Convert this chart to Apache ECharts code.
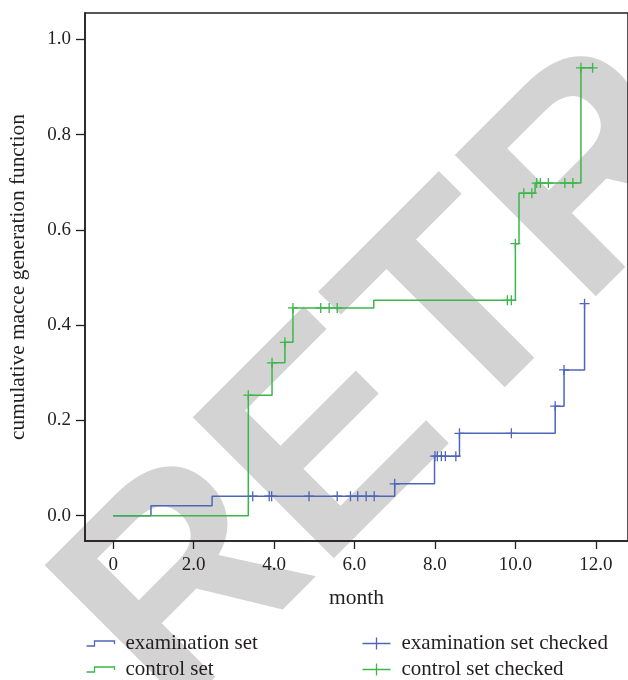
<!DOCTYPE html>
<html>
<head>
<meta charset="utf-8">
<script src="https://cdn.jsdelivr.net/npm/echarts@6/dist/echarts.min.js"></script>
<style>
html, body { margin: 0; padding: 0; background: #fff; }
#main { width: 628px; height: 680px; }
</style>
</head>
<body>
<div id="main"></div>
<script>
// examination set: step times (month) and cumulative value after each step
var examTimes = [0, 0.94, 2.46, 7.0, 7.99, 8.61, 10.99, 11.21, 11.72];
var examRisk = [0, 0.021, 0.041, 0.067, 0.125, 0.173, 0.230, 0.306, 0.445];
// examination set censored marks
var examCheckTimes = [3.47, 3.88, 3.94, 4.87, 5.57, 5.90, 6.08, 6.29, 6.49, 7.0, 8.0, 8.06, 8.16, 8.26, 8.52, 8.61, 9.90, 10.99, 11.21, 11.72];
var examCheckRisk = [0.041, 0.041, 0.041, 0.041, 0.041, 0.041, 0.041, 0.041, 0.041, 0.067, 0.125, 0.125, 0.125, 0.125, 0.125, 0.173, 0.173, 0.230, 0.306, 0.445];

// control set
var ctrlTimes = [0, 3.36, 3.95, 4.27, 4.47, 6.48, 10.0, 10.09, 10.49, 11.63, 11.92];
var ctrlRisk = [0, 0.253, 0.321, 0.364, 0.436, 0.452, 0.571, 0.677, 0.698, 0.940, 0.940];
var ctrlCheckTimes = [3.36, 3.95, 4.27, 4.47, 5.16, 5.37, 5.57, 9.80, 9.90, 10.0, 10.21, 10.41, 10.53, 10.62, 10.82, 11.23, 11.43, 11.63, 11.92];
var ctrlCheckRisk = [0.253, 0.321, 0.364, 0.436, 0.436, 0.436, 0.436, 0.452, 0.452, 0.571, 0.677, 0.677, 0.698, 0.698, 0.698, 0.698, 0.698, 0.940, 0.940];

var xTicks = [0, 2, 4, 6, 8, 10, 12];
var yTicks = [0, 0.2, 0.4, 0.6, 0.8, 1.0];

var blue = '#4d66b8';
var green = '#3cb64a';
var ink = '#231f20';
var serif = '"Liberation Serif", "DejaVu Serif", serif';
var cross = 'path://M0,5L10,5M5,0L5,10';
var stepIcon = 'path://M0,5L8,5L8,0L28,0L28,3';
var crossIcon = 'path://M0,6L28,6M14,0L14,12';

function pairs(xs, ys) {
	var out = [];
	for (var i = 0; i < xs.length; i++) {
		out.push([xs[i], ys[i]]);
	}
	return out;
}

var myChart = echarts.init(document.getElementById('main'));
var option = {
	animation: false,
	backgroundColor: '#fff',
	// the grey watermark behind the plot
	graphic: [{
		type: 'text',
		silent: true,
		z: -10,
		x: 218,
		y: 766,
		rotation: Math.PI / 4,
		style: {
			text: 'RETRACTED',
			font: 'bold 290px "Liberation Sans", Arial, sans-serif',
			fill: '#d3d3d3',
			textAlign: 'left',
			textVerticalAlign: 'bottom'
		}
	}],
	grid: {
		left: 85,
		top: 13,
		right: -10,
		bottom: 139,
		show: true,
		borderColor: ink,
		borderWidth: 1.5
	},
	legend: [{
		left: 84,
		top: 633,
		padding: 0,
		orient: 'vertical',
		itemGap: 5,
		itemWidth: 28,
		itemHeight: 6,
		textStyle: { fontFamily: serif, fontSize: 21, color: ink, padding: [0, 0, 0, 6] },
		data: [
			{ name: 'examination set', icon: stepIcon, itemStyle: { color: 'none', borderColor: blue, borderWidth: 1.3 } },
			{ name: 'control set', icon: stepIcon, itemStyle: { color: 'none', borderColor: green, borderWidth: 1.3 } }
		]
	}, {
		left: 360,
		top: 633,
		padding: 0,
		orient: 'vertical',
		itemGap: 5,
		itemWidth: 28,
		itemHeight: 12,
		textStyle: { fontFamily: serif, fontSize: 21, color: ink, padding: [0, 0, 0, 6] },
		data: [
			{ name: 'examination set checked', icon: crossIcon, itemStyle: { color: 'none', borderColor: blue, borderWidth: 1.3 } },
			{ name: 'control set checked', icon: crossIcon, itemStyle: { color: 'none', borderColor: green, borderWidth: 1.3 } }
		]
	}],
	xAxis: {
		type: 'value',
		min: -0.70,
		max: 12.80,
		name: 'month',
		nameLocation: 'middle',
		nameGap: 46,
		nameTextStyle: { fontFamily: serif, fontSize: 21.5, color: ink },
		axisLine: { onZero: false, lineStyle: { color: ink, width: 1.5 } },
		axisTick: { length: 8, lineStyle: { color: ink, width: 1.3 }, customValues: xTicks },
		axisLabel: {
			margin: 15,
			fontFamily: serif,
			fontSize: 19,
			color: ink,
			customValues: xTicks,
			formatter: function (v) { return v === 0 ? '0' : v.toFixed(1); }
		},
		splitLine: { show: false }
	},
	yAxis: {
		type: 'value',
		min: -0.053,
		max: 1.055,
		name: 'cumulative macce generation function',
		nameLocation: 'middle',
		nameGap: 56,
		nameTextStyle: { fontFamily: serif, fontSize: 21.3, color: ink },
		axisLine: { show: true, onZero: false, lineStyle: { color: ink, width: 1.5 } },
		axisTick: { show: true, length: 9, lineStyle: { color: ink, width: 1.3 }, customValues: yTicks },
		axisLabel: {
			margin: 14,
			fontFamily: serif,
			fontSize: 19,
			color: ink,
			customValues: yTicks,
			formatter: function (v) { return v.toFixed(1); }
		},
		splitLine: { show: false }
	},
	series: [{
		name: 'examination set',
		type: 'line',
		step: 'end',
		showSymbol: false,
		z: 2,
		itemStyle: { color: blue },
		lineStyle: { color: blue, width: 1.5 },
		data: pairs(examTimes, examRisk)
	}, {
		name: 'control set',
		type: 'line',
		step: 'end',
		showSymbol: false,
		z: 3,
		itemStyle: { color: green },
		lineStyle: { color: green, width: 1.5 },
		data: pairs(ctrlTimes, ctrlRisk)
	}, {
		name: 'examination set checked',
		type: 'scatter',
		symbol: cross,
		symbolSize: 10,
		z: 4,
		itemStyle: { color: 'none', borderColor: blue, borderWidth: 1.3, opacity: 1 },
		data: pairs(examCheckTimes, examCheckRisk)
	}, {
		name: 'control set checked',
		type: 'scatter',
		symbol: cross,
		symbolSize: 10,
		z: 5,
		itemStyle: { color: 'none', borderColor: green, borderWidth: 1.3, opacity: 1 },
		data: pairs(ctrlCheckTimes, ctrlCheckRisk)
	}]
};
myChart.setOption(option);
</script>
</body>
</html>
